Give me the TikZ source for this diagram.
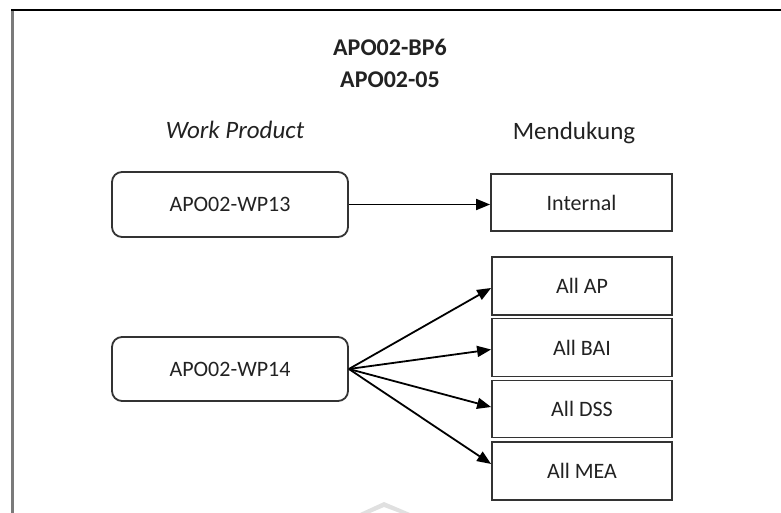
\documentclass[tikz,border=0pt]{standalone}
\usepackage{fontspec}
\setmainfont{Carlito}
\usetikzlibrary{arrows.meta}

\definecolor{ink}{HTML}{222222}
\definecolor{edge}{HTML}{333333}
\definecolor{framegray}{HTML}{7A7A7A}

\tikzset{
  wpbox/.style={draw=edge, line width=1.8pt, rounded corners=10pt,
    minimum width=236pt, minimum height=64pt, inner sep=0pt,
    text=ink, font=\fontsize{22}{26}\selectfont},
  tgtbox/.style={draw=edge, line width=1.8pt,
    minimum width=180pt, minimum height=57pt, inner sep=0pt,
    text=ink, font=\fontsize{22}{26}\selectfont},
  heading/.style={text=ink, font=\fontsize{25}{30}\selectfont},
  titletext/.style={text=ink, font=\fontsize{24}{28}\selectfont\bfseries},
  link/.style={draw=black, line width=1.8pt,
    -{Triangle[length=14pt,width=11pt]}}
}

\begin{document}
\begin{tikzpicture}[x=1pt,y=-1pt]
  \useasboundingbox (0,0) rectangle (781,513);

  % page frame
  \draw[framegray, line width=3pt] (12,10) -- (12,513);
  \draw[black, line width=1.8pt] (11,10) -- (781,10);

  % titles
  \node[titletext] (bp) at (390,47) {APO02-BP6};
  \node[titletext] (pr) at (390,80) {APO02-05};

  % column headings
  \node[heading] (hwp) at (235,130) {\itshape Work Product};
  \node[heading] (hsup) at (574,133) {Mendukung};

  % work products
  \node[wpbox, minimum height=65pt] (wp13) at (230,204.5) {APO02-WP13};
  \node[wpbox] (wp14) at (230,369) {APO02-WP14};

  % supported processes
  \node[tgtbox, minimum width=181pt] (int) at (581.5,202.5) {Internal};
  \node[tgtbox, minimum height=58pt] (ap)  at (582,286) {All AP};
  \node[tgtbox, minimum height=58pt] (bai) at (582,347.5) {All BAI};
  \node[tgtbox] (dss) at (582,409) {All DSS};
  \node[tgtbox, minimum height=58pt] (mea) at (582,471) {All MEA};

  % connectors
  \draw[link] (wp13.east) -- (int.west |- wp13.east);
  \draw[link] (wp14.east) -- ([yshift=-2pt]ap.west);
  \draw[link] (wp14.east) -- ([yshift=-2pt]bai.west);
  \draw[link] (wp14.east) -- ([yshift=2pt]dss.west);
  \draw[link] (wp14.east) -- ([yshift=7pt]mea.west);

  % faint mark at the lower edge
  \fill[black!12] (360,513) -- (384,502) -- (410,513) -- (400,513) -- (384,507) -- (370,513) -- cycle;
\end{tikzpicture}
\end{document}
